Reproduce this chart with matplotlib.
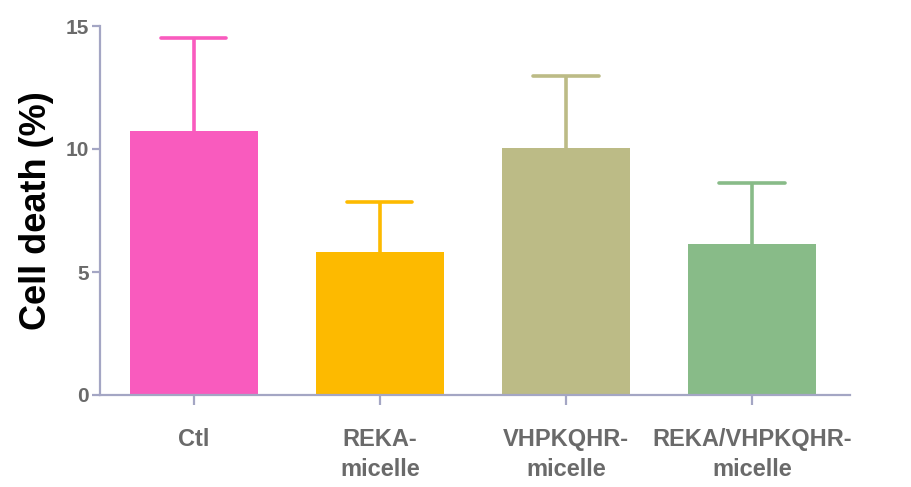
import matplotlib
matplotlib.use("Agg")
import matplotlib.pyplot as plt

plt.rcParams['font.family'] = ['Liberation Sans', 'DejaVu Sans']

groups = ['Ctl', 'REKA-\nmicelle', 'VHPKQHR-\nmicelle', 'REKA/VHPKQHR-\nmicelle']
death = [10.75, 5.82, 10.05, 6.12]
sem = [3.75, 2.03, 2.90, 2.48]
colors = ['#F95BBE', '#FDBA00', '#BCBB86', '#88BB88']

fig = plt.figure(figsize=(9.12, 4.87), dpi=100)
ax = fig.add_axes([100/912, 1 - 395/487, 750/912, 369/487])

x = list(range(len(groups)))
for i in x:
    ax.bar(i, death[i], width=0.69, color=colors[i], zorder=2)
    top = death[i] + sem[i]
    # upper error only: stem + cap
    ax.vlines(i, death[i], top, color=colors[i], linewidth=2.6, zorder=1)
    ax.hlines(top, i - 0.175, i + 0.175, color=colors[i], linewidth=2.6,
              capstyle='round', zorder=1)

ax.set_xlim(-0.505, 3.527)
ax.set_ylim(0, 15)
ax.set_yticks([0, 5, 10, 15])
ax.set_xticks(x)
ax.set_xticklabels(groups, fontsize=17, fontweight='bold', color='#6a6a6a',
                   linespacing=1.38)
for lab in ax.get_yticklabels():
    lab.set_fontsize(15)
    lab.set_fontweight('bold')
    lab.set_color('#6a6a6a')

ax.spines['top'].set_visible(False)
ax.spines['right'].set_visible(False)
for s in ['left', 'bottom']:
    ax.spines[s].set_color('#a4a6c4')
    ax.spines[s].set_linewidth(1.6)
ax.tick_params(axis='x', length=7, width=1.6, color='#a4a6c4', pad=17)
ax.tick_params(axis='y', length=6, width=1.6, color='#a4a6c4', pad=2)

ax.set_ylabel('Cell death (%)', fontsize=26, fontweight='bold', labelpad=8)

fig.savefig('out.png', dpi=100)
